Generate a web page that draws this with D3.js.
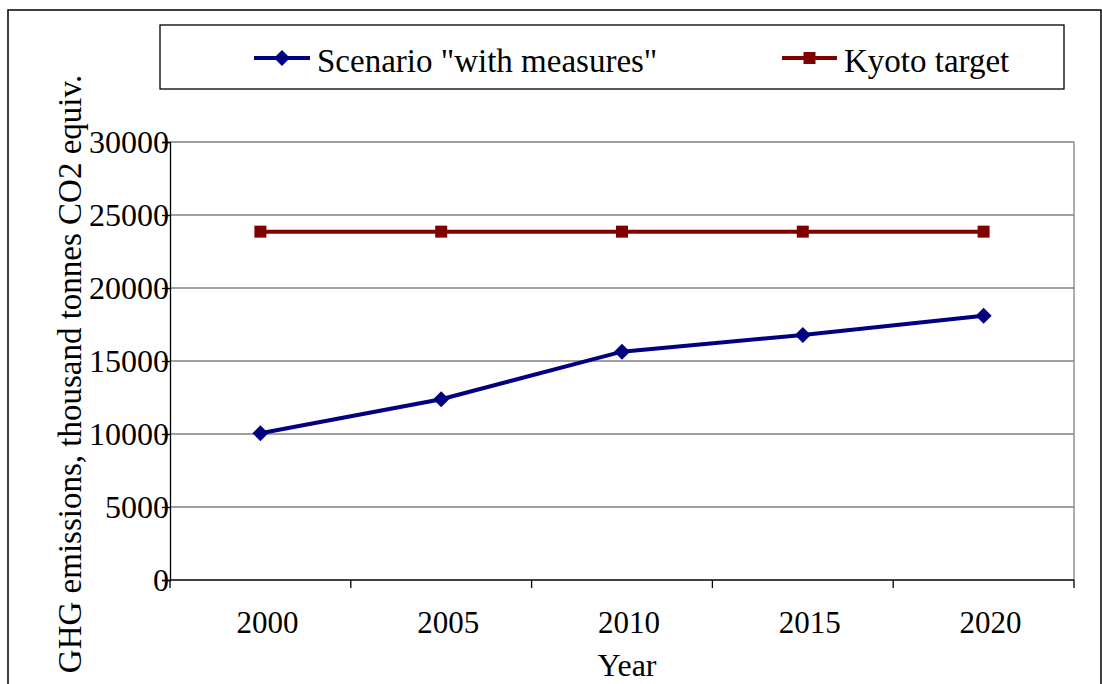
<!DOCTYPE html>
<html>
<head>
<meta charset="utf-8">
<script src="https://cdn.jsdelivr.net/npm/d3@7"></script>
<style>
  html, body { margin: 0; padding: 0; background: #fff; }
  svg { display: block; }
  text { font-family: "Liberation Serif", "Times New Roman", serif; fill: #000; }
</style>
</head>
<body>
<svg id="chart" width="1102" height="684"></svg>
<script>
const years = ["2000", "2005", "2010", "2015", "2020"];
const scenarioValues = [10050, 12380, 15640, 16780, 18100];
const kyotoValues = [23860, 23860, 23860, 23860, 23860];
const yTicks = [0, 5000, 10000, 15000, 20000, 25000, 30000];
const seriesNames = ['Scenario "with measures"', "Kyoto target"];
const seriesColors = ["#000080", "#800000"];

(function () {
const svg = d3.select("#chart");
const pLeft = 170, pRight = 1074, pTop = 142, pBottom = 580;

// outer frame
svg.append("rect").attr("x", 8).attr("y", 10).attr("width", 1093).attr("height", 700)
  .attr("fill", "none").attr("stroke", "#000").attr("stroke-width", 1.5);

const x = d3.scaleBand().domain(years).range([pLeft, pRight]).padding(0);
const y = d3.scaleLinear().domain([0, 30000]).range([pBottom, pTop]);

// gridlines
svg.append("g").selectAll("line").data(yTicks.filter(d => d > 0)).join("line")
  .attr("x1", pLeft).attr("x2", pRight)
  .attr("y1", d => y(d)).attr("y2", d => y(d))
  .attr("stroke", "#808080").attr("stroke-width", 1.3);

// plot right border
svg.append("line").attr("x1", pRight).attr("x2", pRight).attr("y1", pTop).attr("y2", pBottom)
  .attr("stroke", "#808080").attr("stroke-width", 1.3);

// y axis
const yAxis = d3.axisLeft(y).tickValues(yTicks).tickSize(8).tickPadding(1).tickFormat(d3.format("d"));
const gy = svg.append("g").attr("transform", `translate(${pLeft},0)`).call(yAxis);
gy.select(".domain").attr("stroke", "#000").attr("stroke-width", 1.3);
gy.selectAll(".tick line").attr("stroke", "#000").attr("stroke-width", 1.3);
gy.selectAll(".tick text").attr("font-size", 32).attr("x", -1).attr("dy", "0.33em")
  .style("font-family", '"Liberation Serif", serif').attr("fill", "#000");

// x axis
const xAxis = d3.axisBottom(x).tickSize(0).tickPadding(0);
const gx = svg.append("g").attr("transform", `translate(0,${pBottom})`).call(xAxis);
gx.select(".domain").remove();
svg.append("line").attr("x1", pLeft).attr("x2", pRight).attr("y1", pBottom).attr("y2", pBottom)
  .attr("stroke", "#000").attr("stroke-width", 1.3);
gx.selectAll(".tick text").attr("font-size", 31).attr("y", 53).attr("dy", 0).attr("dx", 7)
  .style("font-family", '"Liberation Serif", serif').attr("fill", "#000");
// category boundary ticks
const bounds = years.map(d => x(d)).concat([x(years[years.length - 1]) + x.bandwidth()]);
svg.append("g").selectAll("line").data(bounds).join("line")
  .attr("x1", d => d).attr("x2", d => d).attr("y1", pBottom).attr("y2", pBottom + 8)
  .attr("stroke", "#000").attr("stroke-width", 1.3);

const cx = d => x(d) + x.bandwidth() / 2;

const line = d3.line().x(d => cx(d[0])).y(d => y(d[1]));
const kyotoData = years.map((yr, i) => [yr, kyotoValues[i]]);
const scenData = years.map((yr, i) => [yr, scenarioValues[i]]);

svg.append("path").datum(kyotoData).attr("d", line).attr("fill", "none")
  .attr("stroke", seriesColors[1]).attr("stroke-width", 4);
svg.append("g").selectAll("rect").data(kyotoData).join("rect")
  .attr("x", d => cx(d[0]) - 6).attr("y", d => y(d[1]) - 6)
  .attr("width", 12).attr("height", 12).attr("fill", seriesColors[1]);

svg.append("path").datum(scenData).attr("d", line).attr("fill", "none")
  .attr("stroke", seriesColors[0]).attr("stroke-width", 4);
const diamond = "M0,-8L8,0L0,8L-8,0Z";
svg.append("g").selectAll("path").data(scenData).join("path")
  .attr("transform", d => `translate(${cx(d[0])},${y(d[1])})`)
  .attr("d", diamond).attr("fill", seriesColors[0]);

// axis titles
svg.append("text").attr("transform", "translate(81,374) rotate(-90)")
  .attr("text-anchor", "middle").attr("font-size", 33)
  .text("GHG emissions, thousand tonnes CO2 equiv.");
svg.append("text").attr("x", 627).attr("y", 676).attr("text-anchor", "middle")
  .attr("font-size", 32).text("Year");

// legend
svg.append("rect").attr("x", 160).attr("y", 25).attr("width", 904).attr("height", 64)
  .attr("fill", "#fff").attr("stroke", "#000").attr("stroke-width", 1.3);
const legendItems = [
  { name: seriesNames[0], color: seriesColors[0], x1: 254, x2: 310, tx: 317, marker: "diamond" },
  { name: seriesNames[1], color: seriesColors[1], x1: 782, x2: 837, tx: 844, marker: "square" }
];
const lg = svg.append("g").selectAll("g").data(legendItems).join("g");
lg.append("line").attr("x1", d => d.x1).attr("x2", d => d.x2).attr("y1", 58).attr("y2", 58)
  .attr("stroke", d => d.color).attr("stroke-width", 4);
lg.filter(d => d.marker === "diamond").append("path")
  .attr("transform", d => `translate(${(d.x1 + d.x2) / 2},58)`)
  .attr("d", diamond).attr("fill", d => d.color);
lg.filter(d => d.marker === "square").append("rect")
  .attr("x", d => (d.x1 + d.x2) / 2 - 6).attr("y", 52).attr("width", 12).attr("height", 12)
  .attr("fill", d => d.color);
lg.append("text").attr("x", d => d.tx).attr("y", 72).attr("font-size", 33).text(d => d.name);
})();
</script>
</body>
</html>
